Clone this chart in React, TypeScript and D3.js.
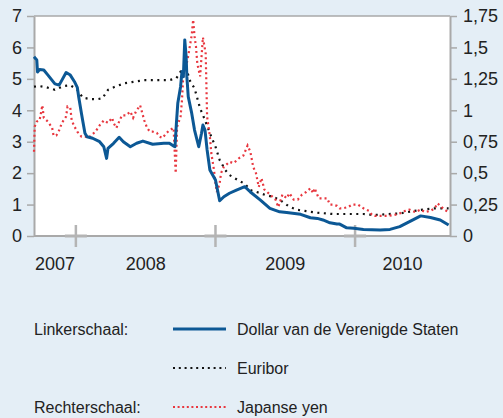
import React, { useEffect, useRef } from 'react'
import * as d3 from 'd3'

// decimal year, value (left scale, %)
const dollarYears = [
  2007.7, 2007.72, 2007.725, 2007.74, 2007.77, 2007.8, 2007.85, 2007.88, 2007.9, 2007.93, 2007.96,
  2007.99, 2008.01, 2008.02, 2008.04, 2008.05, 2008.065, 2008.08, 2008.12, 2008.17, 2008.2, 2008.22,
  2008.23, 2008.27, 2008.31, 2008.34, 2008.39, 2008.435, 2008.48, 2008.55, 2008.63, 2008.67, 2008.7,
  2008.71, 2008.72, 2008.73, 2008.75, 2008.76, 2008.77, 2008.78, 2008.79, 2008.795, 2008.805, 2008.83,
  2008.85, 2008.88, 2008.9, 2008.91, 2008.925, 2008.94, 2008.96, 2009.0, 2009.03, 2009.06, 2009.1,
  2009.15, 2009.21, 2009.25, 2009.32, 2009.39, 2009.46, 2009.51, 2009.61, 2009.68, 2009.73, 2009.77,
  2009.82, 2009.87, 2009.89, 2009.94, 2009.99, 2010.06, 2010.18, 2010.25, 2010.32, 2010.39, 2010.47,
  2010.54, 2010.61, 2010.67,
]
const dollarValues = [
  5.7, 5.6, 5.22, 5.3, 5.28, 5.12, 4.84, 4.8, 4.96, 5.2, 5.12,
  4.91, 4.73, 4.43, 3.9, 3.64, 3.27, 3.16, 3.11, 3.0, 2.84, 2.47,
  2.79, 2.95, 3.14, 3.0, 2.84, 2.95, 3.02, 2.92, 2.95, 2.95, 2.86,
  2.84, 3.58, 4.22, 4.75, 5.23, 5.07, 6.24, 5.7, 5.07, 4.43, 3.9,
  3.37, 2.84, 3.27, 3.53, 3.37, 2.74, 2.1, 1.78, 1.12, 1.25, 1.36,
  1.46, 1.57, 1.4, 1.15, 0.88, 0.77, 0.75, 0.69, 0.58, 0.56, 0.51,
  0.42, 0.38, 0.38, 0.26, 0.25, 0.21, 0.19, 0.21, 0.3, 0.46, 0.64,
  0.59, 0.51, 0.35,
]

const euriborYears = [
  2007.7, 2007.74, 2007.79, 2007.85, 2007.91, 2007.96, 2008.01, 2008.05, 2008.1, 2008.15, 2008.19,
  2008.23, 2008.28, 2008.35, 2008.42, 2008.49, 2008.67, 2008.72, 2008.75, 2008.79, 2008.82, 2008.85,
  2008.89, 2008.92, 2008.96, 2009.0, 2009.03, 2009.07, 2009.1, 2009.16, 2009.21, 2009.25, 2009.31,
  2009.36, 2009.41, 2009.46, 2009.53, 2009.59, 2009.68, 2009.73, 2009.84, 2010.06, 2010.13, 2010.18,
  2010.32, 2010.47, 2010.57, 2010.67,
]
const euriborValues = [
  4.75, 4.77, 4.73, 4.65, 4.77, 4.8, 4.65, 4.4, 4.36, 4.35, 4.38,
  4.65, 4.75, 4.86, 4.91, 4.96, 4.96, 5.02, 5.23, 5.33, 4.91, 4.7,
  4.06, 3.74, 3.27, 2.84, 2.42, 2.1, 1.94, 1.78, 1.66, 1.46, 1.38,
  1.3, 1.25, 1.15, 0.93, 0.83, 0.77, 0.74, 0.7, 0.7, 0.67, 0.68,
  0.72, 0.83, 0.88, 0.88,
]

// right scale
const yenYears = [
  2007.7, 2007.705, 2007.72, 2007.74, 2007.76, 2007.77, 2007.8, 2007.83, 2007.84, 2007.86, 2007.88,
  2007.9, 2007.93, 2007.94, 2007.96, 2007.97, 2007.99, 2008.01, 2008.04, 2008.07, 2008.09, 2008.11,
  2008.14, 2008.17, 2008.2, 2008.23, 2008.26, 2008.27, 2008.29, 2008.31, 2008.33, 2008.36, 2008.39,
  2008.41, 2008.43, 2008.46, 2008.47, 2008.49, 2008.51, 2008.53, 2008.55, 2008.58, 2008.6, 2008.62,
  2008.65, 2008.67, 2008.7, 2008.715, 2008.725, 2008.75, 2008.76, 2008.77, 2008.79, 2008.8, 2008.83,
  2008.84, 2008.85, 2008.86, 2008.87, 2008.89, 2008.91, 2008.93, 2008.94, 2008.96, 2008.97, 2008.99,
  2009.0, 2009.01, 2009.03, 2009.04, 2009.06, 2009.1, 2009.13, 2009.17, 2009.2, 2009.23, 2009.25,
  2009.27, 2009.29, 2009.31, 2009.33, 2009.35, 2009.39, 2009.43, 2009.45, 2009.48, 2009.51, 2009.53,
  2009.56, 2009.59, 2009.62, 2009.65, 2009.68, 2009.7, 2009.71, 2009.74, 2009.77, 2009.8, 2009.82,
  2009.84, 2009.87, 2009.89, 2009.91, 2009.95, 2009.98, 2010.0, 2010.02, 2010.06, 2010.1, 2010.12,
  2010.14, 2010.18, 2010.24, 2010.29, 2010.32, 2010.36, 2010.39, 2010.43, 2010.47, 2010.5, 2010.54,
  2010.57, 2010.59, 2010.62, 2010.64, 2010.67,
]
const yenValues = [
  0.67, 0.87, 0.91, 0.92, 1.04, 0.94, 0.91, 0.86, 0.8, 0.8, 0.84,
  0.9, 0.95, 1.03, 1.02, 0.92, 0.87, 0.83, 0.79, 0.79, 0.78, 0.8,
  0.83, 0.88, 0.92, 0.9, 0.94, 0.9, 0.86, 0.91, 0.96, 0.96, 0.99,
  0.94, 0.99, 1.04, 1.0, 0.92, 0.86, 0.83, 0.83, 0.82, 0.79, 0.78,
  0.82, 0.84, 0.86, 0.5, 0.87, 0.95, 1.08, 1.29, 1.36, 1.4, 1.6,
  1.72, 1.59, 1.51, 1.37, 1.27, 1.58, 1.45, 0.95, 0.79, 0.66, 0.52,
  0.42, 0.35, 0.42, 0.5, 0.55, 0.59, 0.58, 0.62, 0.64, 0.72, 0.67,
  0.55, 0.5, 0.39, 0.46, 0.37, 0.33, 0.29, 0.23, 0.33, 0.3, 0.34,
  0.29, 0.29, 0.33, 0.35, 0.38, 0.34, 0.38, 0.3, 0.3, 0.3, 0.25,
  0.25, 0.24, 0.22, 0.22, 0.23, 0.25, 0.25, 0.25, 0.22, 0.2, 0.17,
  0.16, 0.16, 0.16, 0.17, 0.18, 0.2, 0.21, 0.19, 0.21, 0.19, 0.2,
  0.22, 0.26, 0.23, 0.21, 0.19,
]

const leftTicks = [0, 1, 2, 3, 4, 5, 6, 7]
const rightTicks = [0, 0.25, 0.5, 0.75, 1, 1.25, 1.5, 1.75]
const yearLabels = ['2007', '2008', '2009', '2010']
const yearBreaks = [2008, 2009, 2010]

const FONT = 'Liberation Sans, Arial, sans-serif'

const App = () => {
  const ref = useRef(null)

  useEffect(() => {
    const width = 503
    const height = 418
    const margin = { top: 16, right: 53, left: 34 }
    const plotBottom = 236

    const svg = d3.select(ref.current).attr('width', width).attr('height', height)
    svg.selectAll('*').remove()

    svg.append('rect').attr('width', width).attr('height', height).attr('fill', '#e4eef6')

    const x = d3.scaleLinear().domain([2007.7, 2010.68]).range([margin.left, width - margin.right])
    const yL = d3.scaleLinear().domain([0, 7]).range([plotBottom, margin.top])
    const yR = d3.scaleLinear().domain([0, 1.75]).range([plotBottom, margin.top])

    svg
      .append('rect')
      .attr('x', margin.left)
      .attr('y', margin.top)
      .attr('width', width - margin.right - margin.left)
      .attr('height', plotBottom - margin.top)
      .attr('fill', '#fff')

    // top border
    svg
      .append('line')
      .attr('x1', margin.left)
      .attr('x2', width - margin.right)
      .attr('y1', margin.top)
      .attr('y2', margin.top)
      .attr('stroke', '#a9a9a9')
      .attr('stroke-width', 1.5)

    const comma = (d) => String(d).replace('.', ',')

    const styleAxis = (g) => {
      g.select('.domain').attr('stroke', '#a9a9a9').attr('stroke-width', 2)
      g.selectAll('.tick line').attr('stroke', '#a9a9a9').attr('stroke-width', 1.5)
      g.selectAll('.tick text')
        .attr('fill', '#222')
        .style('font-family', FONT)
        .style('font-size', '18px')
    }

    svg
      .append('g')
      .attr('transform', `translate(${margin.left},0)`)
      .call(
        d3
          .axisLeft(yL)
          .tickValues(leftTicks)
          .tickFormat((d) => String(d))
          .tickSize(7)
          .tickSizeOuter(0)
          .tickPadding(5)
      )
      .call(styleAxis)

    svg
      .append('g')
      .attr('transform', `translate(${width - margin.right},0)`)
      .call(
        d3
          .axisRight(yR)
          .tickValues(rightTicks)
          .tickFormat(comma)
          .tickSize(7)
          .tickSizeOuter(0)
          .tickPadding(6)
      )
      .call(styleAxis)

    // bottom axis
    svg
      .append('line')
      .attr('x1', margin.left)
      .attr('x2', width - margin.right)
      .attr('y1', plotBottom)
      .attr('y2', plotBottom)
      .attr('stroke', '#a9a9a9')
      .attr('stroke-width', 2)

    const cross = svg.append('g').selectAll('g').data(yearBreaks).enter().append('g')
    cross
      .append('line')
      .attr('x1', (d) => x(d))
      .attr('x2', (d) => x(d))
      .attr('y1', plotBottom - 11)
      .attr('y2', plotBottom + 11)
      .attr('stroke', '#b4b4b4')
      .attr('stroke-width', 2.5)
    cross
      .append('line')
      .attr('x1', (d) => x(d) - 11)
      .attr('x2', (d) => x(d) + 11)
      .attr('y1', plotBottom)
      .attr('y2', plotBottom)
      .attr('stroke', '#b4b4b4')
      .attr('stroke-width', 3)

    const [d0, d1] = x.domain()
    svg
      .append('g')
      .selectAll('text')
      .data(yearLabels)
      .enter()
      .append('text')
      .attr('x', (d) => {
        const y0 = Math.max(+d, d0)
        const y1 = Math.min(+d + 1, d1)
        return x((y0 + y1) / 2)
      })
      .attr('y', 270)
      .attr('text-anchor', 'middle')
      .attr('fill', '#222')
      .style('font-family', FONT)
      .style('font-size', '18px')
      .text((d) => d)

    const plot = svg.append('g')

    const lineL = d3
      .line()
      .x((d) => x(d[0]))
      .y((d) => yL(d[1]))
    const lineR = d3
      .line()
      .x((d) => x(d[0]))
      .y((d) => yR(d[1]))

    plot
      .append('path')
      .datum(euriborYears.map((t, i) => [t, euriborValues[i]]))
      .attr('d', lineL)
      .attr('fill', 'none')
      .attr('stroke', '#111')
      .attr('stroke-width', 2.2)
      .attr('stroke-dasharray', '2,4.5')

    plot
      .append('path')
      .datum(yenYears.map((t, i) => [t, yenValues[i]]))
      .attr('d', lineR)
      .attr('fill', 'none')
      .attr('stroke', '#e8373f')
      .attr('stroke-width', 2.2)
      .attr('stroke-dasharray', '2,3')

    plot
      .append('path')
      .datum(dollarYears.map((t, i) => [t, dollarValues[i]]))
      .attr('d', lineL)
      .attr('fill', 'none')
      .attr('stroke', '#0c5895')
      .attr('stroke-width', 3)
      .attr('stroke-linejoin', 'round')

    // legend
    const legend = svg.append('g').style('font-family', FONT).style('font-size', '16px')
    const rows = [
      { group: 'Linkerschaal:', label: 'Dollar van de Verenigde Staten', color: '#0c5895', dash: null, y: 335 },
      { group: '', label: 'Euribor', color: '#111', dash: '2,3.8', y: 374 },
      { group: 'Rechterschaal:', label: 'Japanse yen', color: '#e8373f', dash: '2,2.6', y: 413 },
    ]
    rows.forEach((r) => {
      legend.append('text').attr('x', 34).attr('y', r.y).attr('fill', '#222').text(r.group)
      legend
        .append('line')
        .attr('x1', 173)
        .attr('x2', 226)
        .attr('y1', r.y - 6)
        .attr('y2', r.y - 6)
        .attr('stroke', r.color)
        .attr('stroke-width', r.dash ? 2.2 : 3)
        .attr('stroke-dasharray', r.dash)
      legend.append('text').attr('x', 237).attr('y', r.y).attr('fill', '#222').text(r.label)
    })
  }, [])

  return <svg ref={ref} style={{ position: 'absolute', left: 0, top: 0 }}></svg>
}

export default App
